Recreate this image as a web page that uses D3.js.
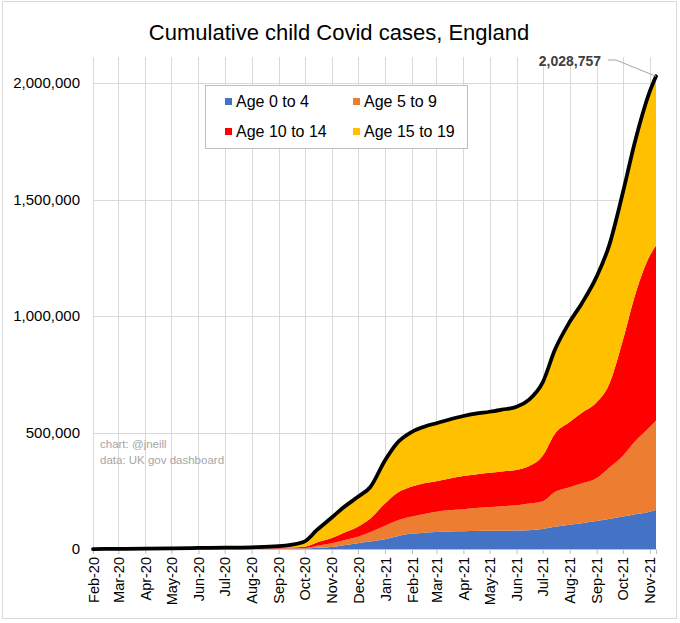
<!DOCTYPE html>
<html>
<head>
<meta charset="utf-8">
<script src="https://cdn.jsdelivr.net/npm/d3@7/dist/d3.min.js"></script>
<style>
  html, body { margin: 0; padding: 0; background: #fff; }
  svg { display: block; font-family: "Liberation Sans", Arial, sans-serif; }
</style>
</head>
<body>
<svg id="chart" width="680" height="623"></svg>
<script>
// ---- Data (cumulative cases per age group) ----
const dates = [
  "2020-02-01","2020-03-01","2020-04-01","2020-05-01","2020-06-01","2020-07-01",
  "2020-08-01","2020-09-01","2020-09-15","2020-10-01","2020-10-15","2020-11-01",
  "2020-11-15","2020-12-01","2020-12-15","2021-01-01","2021-01-15","2021-02-01",
  "2021-02-15","2021-03-01","2021-03-15","2021-04-01","2021-04-15","2021-05-01",
  "2021-05-15","2021-06-01","2021-06-15","2021-07-01","2021-07-15","2021-08-01",
  "2021-08-15","2021-09-01","2021-09-15","2021-10-01","2021-10-15","2021-11-01",
  "2021-11-08"
];
const age0to4 = [
  0, 30, 150, 300, 400, 500, 700, 1000, 1300, 2000, 5000, 9000,
  16000, 25000, 32000, 42000, 55000, 66000, 70000, 73000, 75000, 76000, 77000, 78000,
  78500, 79000, 81000, 86000, 95000, 104000, 111000, 120000, 129000, 139000, 149000, 160000,
  167000
];
const age5to9 = [
  0, 30, 150, 300, 500, 600, 800, 1200, 1700, 2000, 9000, 16000,
  22000, 28000, 40000, 58000, 67000, 73000, 80000, 87000, 91000, 95000, 99000, 102000,
  105500, 109000, 114000, 119000, 150000, 161000, 171000, 185000, 219000, 261000, 313000, 365000,
  385000
];
const age10to14 = [
  0, 40, 300, 600, 800, 1100, 1500, 2300, 3500, 6000, 14000, 22000,
  32000, 43000, 58000, 95000, 118000, 129000, 132000, 131000, 136000, 142000, 144000, 147000,
  149000, 151000, 160000, 195000, 250000, 280000, 303000, 325000, 357000, 496000, 628000, 735000,
  751000
];
const age15to19 = [
  0, 200, 900, 1800, 2800, 3300, 4500, 7500, 11500, 23000, 54000, 88000,
  110000, 128000, 135000, 185000, 215000, 235000, 243000, 249000, 253000, 258000, 261000, 262000,
  265000, 271000, 285000, 315000, 360000, 430000, 470000, 540000, 595000, 634000, 660000, 705000,
  725757
];
const seriesNames = ["Age 0 to 4", "Age 5 to 9", "Age 10 to 14", "Age 15 to 19"];
const seriesColors = ["#4472C4", "#ED7D31", "#FF0000", "#FFC000"];
const yTicks = [0, 500000, 1000000, 1500000, 2000000];
const monthTicks = [
  "2020-02-01","2020-03-01","2020-04-01","2020-05-01","2020-06-01","2020-07-01",
  "2020-08-01","2020-09-01","2020-10-01","2020-11-01","2020-12-01","2021-01-01",
  "2021-02-01","2021-03-01","2021-04-01","2021-05-01","2021-06-01","2021-07-01",
  "2021-08-01","2021-09-01","2021-10-01","2021-11-01"
];
const titleText = "Cumulative child Covid cases, England";
const creditLines = ["chart: @jneill", "data: UK gov dashboard"];

// ---- Build table ----
const parse = d3.utcParse("%Y-%m-%d");
const keys = ["a", "b", "c", "d"];
const table = dates.map((d, i) => ({
  date: parse(d), a: age0to4[i], b: age5to9[i], c: age10to14[i], d: age15to19[i]
}));
table.forEach(r => r.total = r.a + r.b + r.c + r.d);

const svg = d3.select("#chart");

// outer border
svg.append("rect").attr("x", 2.5).attr("y", 1.5).attr("width", 674).attr("height", 617)
  .attr("fill", "#fff").attr("stroke", "#d9d9d9");

const left = 93, right = 656, bottom = 549, plotTop = 57;
const x = d3.scaleUtc().domain([parse("2020-02-01"), parse("2021-11-08")]).range([left, right]);
const y = d3.scaleLinear().domain([0, 2000000]).range([bottom, 83]);

// gridlines
const grid = svg.append("g").attr("stroke", "#d9d9d9").attr("stroke-width", 1);
grid.selectAll("line.v").data(monthTicks.map(parse)).join("line")
  .attr("x1", d => Math.round(x(d)) + 0.5).attr("x2", d => Math.round(x(d)) + 0.5)
  .attr("y1", plotTop).attr("y2", bottom);
grid.selectAll("line.h").data(yTicks.slice(1)).join("line")
  .attr("x1", left).attr("x2", right)
  .attr("y1", d => Math.round(y(d)) + 0.5).attr("y2", d => Math.round(y(d)) + 0.5);

// stacked areas
const stack = d3.stack().keys(keys);
const layers = stack(table);
const area = d3.area()
  .x(d => x(d.data.date))
  .y0(d => y(d[0]))
  .y1(d => y(d[1]))
  .curve(d3.curveMonotoneX);
svg.append("g").selectAll("path").data(layers).join("path")
  .attr("d", area)
  .attr("fill", (d, i) => seriesColors[i]);

// x axis
const xAxis = d3.axisBottom(x).tickValues(monthTicks.map(parse))
  .tickFormat(d3.utcFormat("%b-%y")).tickSize(5).tickPadding(4);
const gx = svg.append("g").attr("transform", `translate(0,${bottom})`).call(xAxis);
gx.select(".domain").attr("stroke", "#bfbfbf");
gx.selectAll(".tick line").attr("stroke", "#bfbfbf");
gx.selectAll(".tick text")
  .attr("font-size", 14.5).attr("fill", "#000")
  .attr("transform", "rotate(-90)")
  .attr("text-anchor", "end")
  .attr("x", -8).attr("y", 0).attr("dy", "0.35em");

// y axis labels
const yAxis = d3.axisLeft(y).tickValues(yTicks).tickFormat(d3.format(",")).tickSize(0).tickPadding(13);
const gy = svg.append("g").attr("transform", `translate(${left},0)`).call(yAxis);
gy.select(".domain").remove();
gy.selectAll(".tick text").attr("font-size", 15).attr("fill", "#000");

// total line
const line = d3.line().x(d => x(d.date)).y(d => y(d.total)).curve(d3.curveMonotoneX);
svg.append("path").datum(table).attr("d", line)
  .attr("fill", "none").attr("stroke", "#000").attr("stroke-width", 3.75)
  .attr("stroke-linejoin", "round").attr("stroke-linecap", "round");

// annotation
const last = table[table.length - 1];
const lx = x(last.date), ly = y(last.total);
svg.append("polyline")
  .attr("points", `608,60 616,60 ${lx},${ly}`)
  .attr("fill", "none").attr("stroke", "#a6a6a6").attr("stroke-width", 1);
svg.append("text").attr("x", 601).attr("y", 66).attr("text-anchor", "end")
  .attr("font-size", 14).attr("font-weight", "bold").attr("fill", "#404040")
  .text(d3.format(",")(last.total));

// title
svg.append("text").attr("x", 339).attr("y", 40).attr("text-anchor", "middle")
  .attr("font-size", 22).attr("fill", "#000").text(titleText);

// legend
const lg = svg.append("g");
lg.append("rect").attr("x", 205.5).attr("y", 85.5).attr("width", 262).attr("height", 63)
  .attr("fill", "#fff").attr("stroke", "#bfbfbf");
const legPos = [[225, 107], [353, 107], [225, 137], [353, 137]];
seriesNames.forEach((n, i) => {
  const [px, py] = legPos[i];
  lg.append("rect").attr("x", px).attr("y", py - 9).attr("width", 7).attr("height", 7)
    .attr("fill", seriesColors[i]);
  lg.append("text").attr("x", px + 11).attr("y", py).attr("font-size", 16)
    .attr("fill", "#000").text(n);
});

// credits
creditLines.forEach((t, i) => {
  svg.append("text").attr("x", 100).attr("y", 448 + i * 16).attr("font-size", 11.5)
    .attr("fill", "#a6a6a6").text(t);
});
</script>
</body>
</html>
